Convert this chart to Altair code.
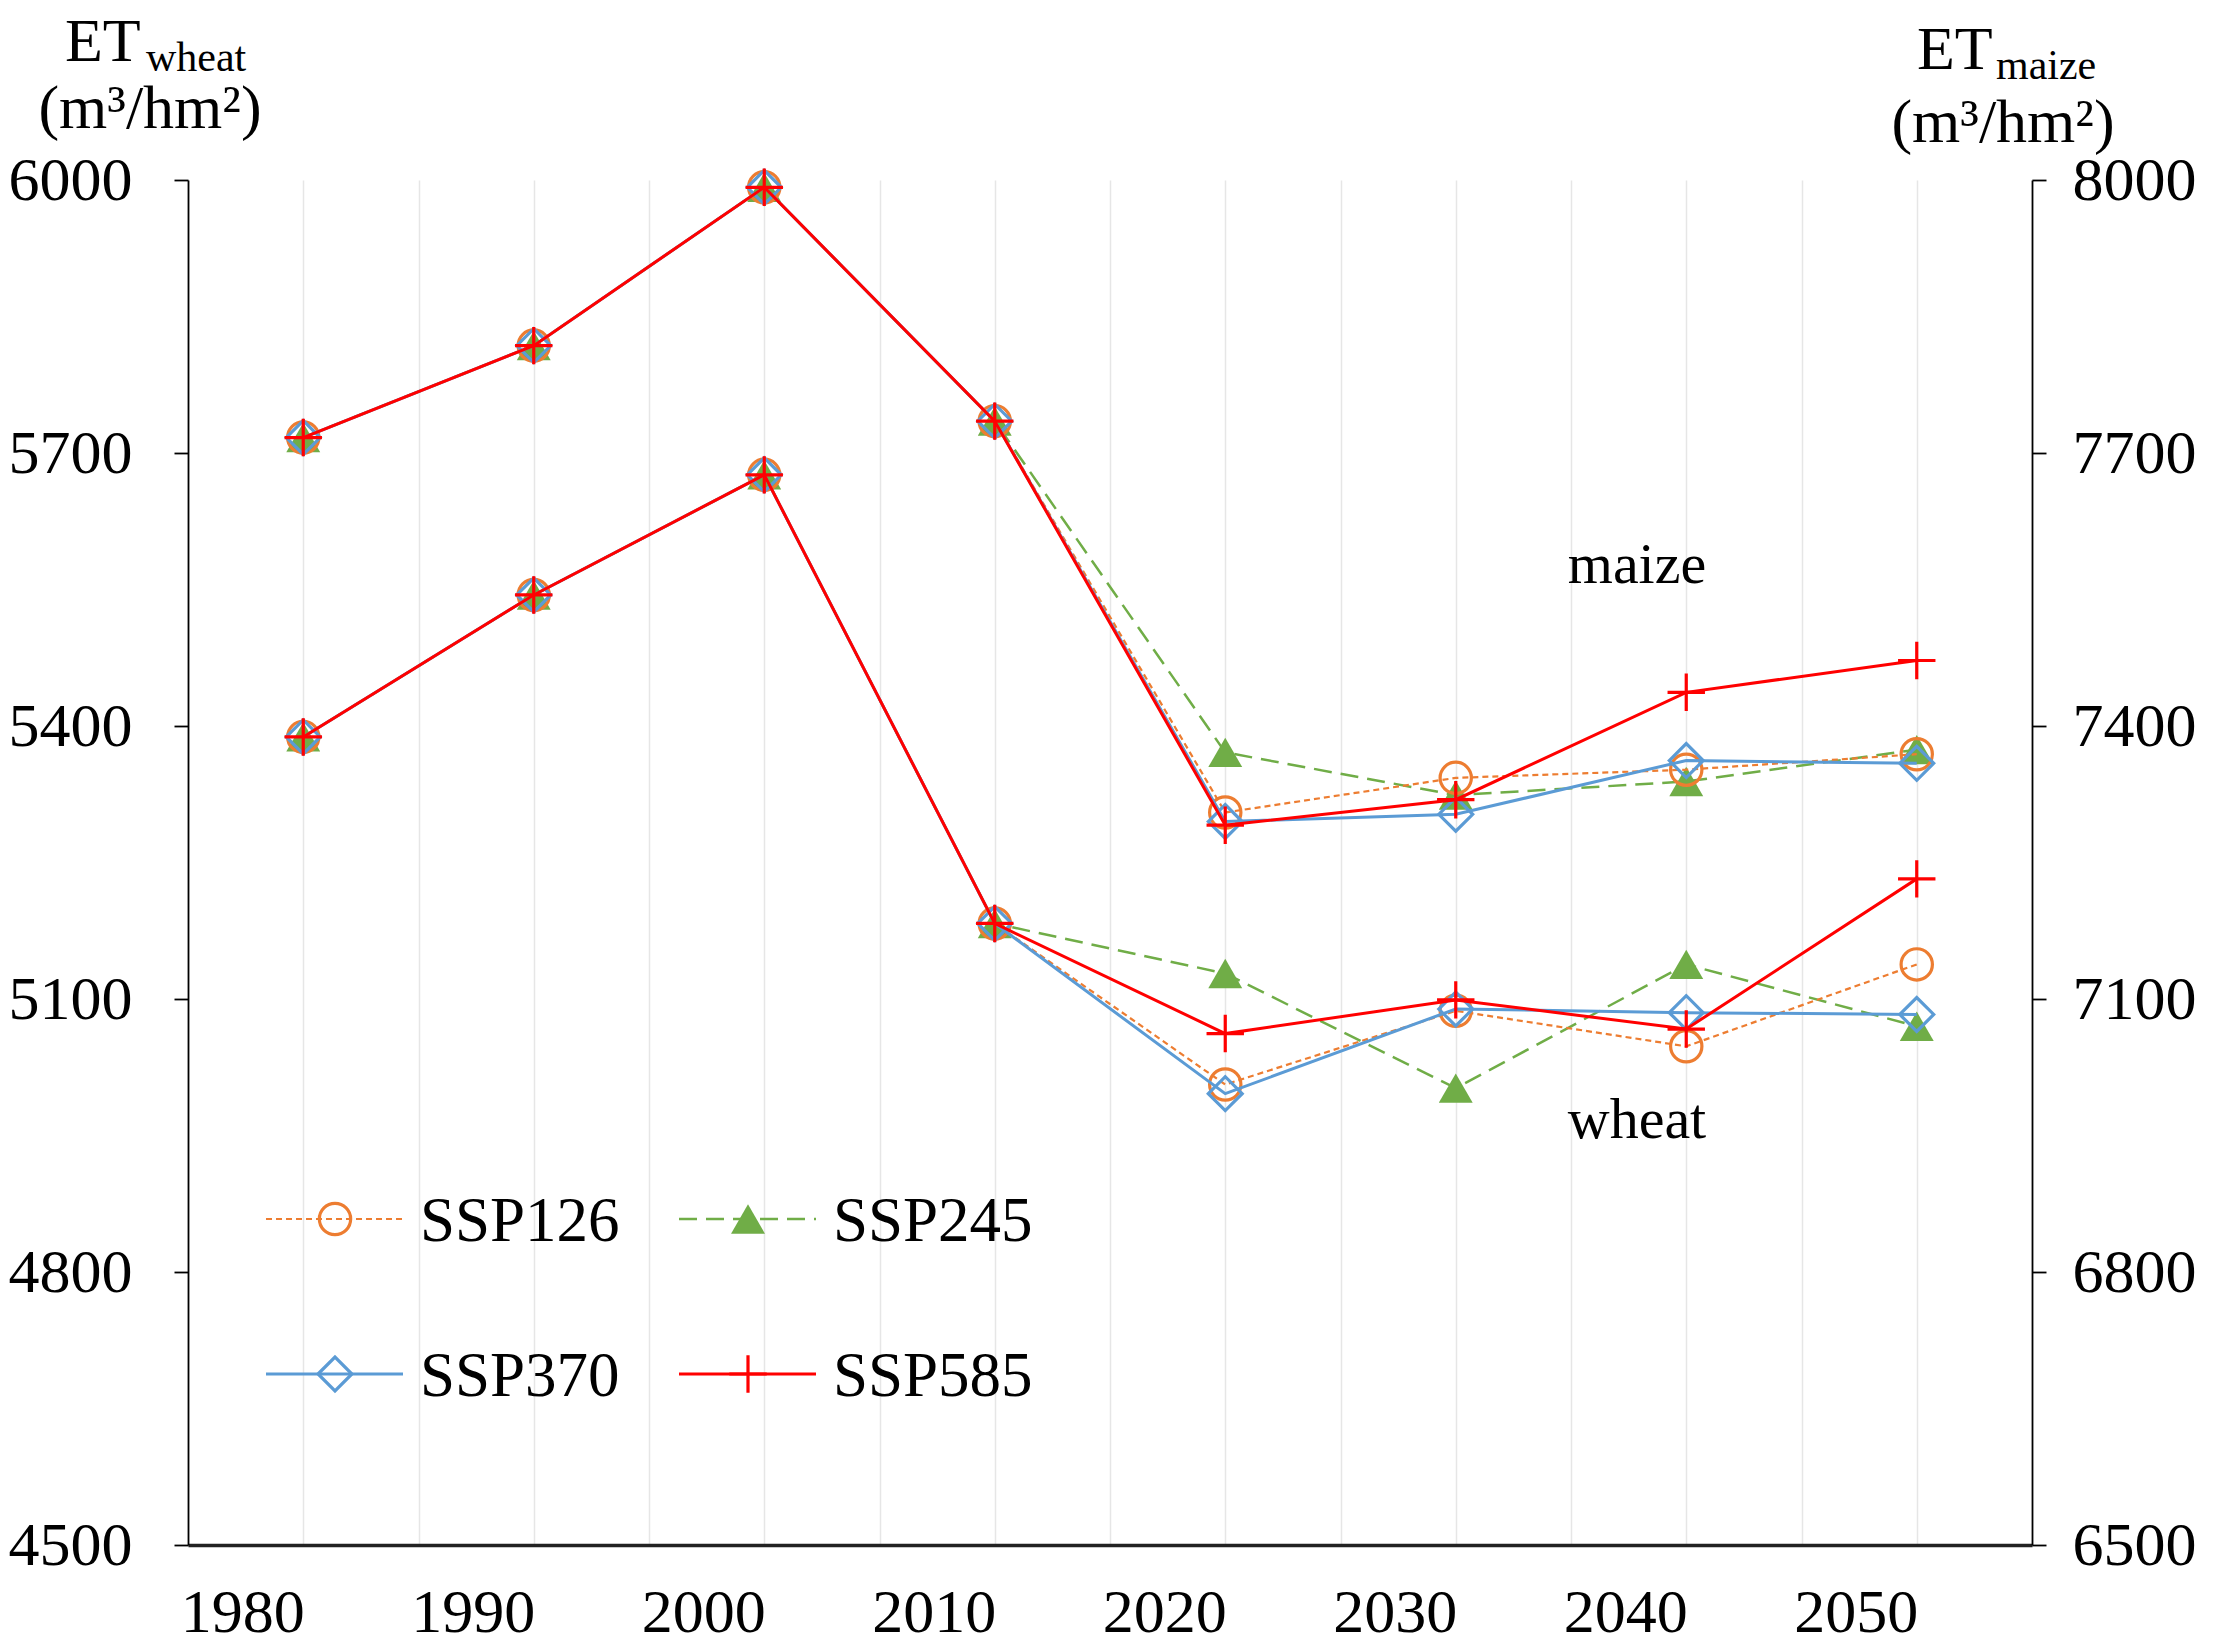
import altair as alt
import pandas as pd

FONT = "Liberation Serif"

years = [1980, 1990, 2000, 2010, 2020, 2030, 2040, 2050]
scenarios = ["SSP126", "SSP245", "SSP370", "SSP585"]
grid_years = list(range(1980, 2051, 5))

wheat_ssp126 = [5388, 5544, 5676, 5183, 5006, 5087, 5048, 5138]
wheat_ssp245 = [5388, 5544, 5676, 5183, 5128, 5002, 5138, 5070]
wheat_ssp370 = [5388, 5544, 5676, 5183, 4996, 5089, 5085, 5083]
wheat_ssp585 = [5388, 5544, 5676, 5183, 5062, 5099, 5067, 5232]

maize_ssp126 = [7717, 7818, 7992, 7735, 7305, 7343, 7352, 7369]
maize_ssp245 = [7717, 7818, 7992, 7735, 7371, 7324, 7339, 7374]
maize_ssp370 = [7717, 7818, 7992, 7735, 7295, 7303, 7362, 7359]
maize_ssp585 = [7717, 7818, 7992, 7735, 7291, 7319, 7437, 7472]

wheat = {"SSP126": wheat_ssp126, "SSP245": wheat_ssp245,
         "SSP370": wheat_ssp370, "SSP585": wheat_ssp585}
maize = {"SSP126": maize_ssp126, "SSP245": maize_ssp245,
         "SSP370": maize_ssp370, "SSP585": maize_ssp585}

rows = []
for s in scenarios:
    for y, w, m in zip(years, wheat[s], maize[s]):
        rows.append({"year": y, "scenario": s, "crop": "wheat", "value": w})
        rows.append({"year": y, "scenario": s, "crop": "maize", "value": m})
df = pd.DataFrame(rows)

style = {
    "SSP126": dict(color="#ED7D31", dash=[6, 4], width=2.2, shape="circle", filled=False, size=980, sw=3.2),
    "SSP245": dict(color="#70AD47", dash=[18, 9], width=2.5, shape="triangle-up", filled=True, size=1150, sw=1),
    "SSP370": dict(color="#5B9BD5", dash=None, width=3, shape="diamond", filled=False, size=1150, sw=3.2),
    "SSP585": dict(color="#FF0000", dash=None, width=3, shape="M-1,0H1M0,-1V1", filled=False, size=1400, sw=3.2),
}
draw_order = ["SSP245", "SSP126", "SSP370", "SSP585"]

xscale = alt.Scale(domain=[1975, 2055], nice=False, zero=False)
xaxis = alt.Axis(values=grid_years, format="d",
                 labelExpr="datum.value % 10 == 0 ? datum.label : ''",
                 grid=True, gridColor="#E6E6E6", gridWidth=1.5,
                 ticks=False, tickSize=0, domainColor="#222222", domainWidth=3.5,
                 labelFont=FONT, labelFontSize=62, labelColor="black",
                 labelBaseline="alphabetic", labelPadding=86, labelOffset=-61,
                 labelFlush=False, labelOverlap=False, title=None)


def yaxis(orient, lo, hi, pad):
    return alt.Axis(orient=orient, values=list(range(lo, hi + 1, 300)), format="d",
                    grid=False, domainColor="black", domainWidth=1.8,
                    tickColor="black", tickWidth=1.8, tickSize=14,
                    labelFont=FONT, labelFontSize=62, labelColor="black",
                    labelPadding=pad, title=None)


def crop_layer(crop, lo, hi, orient, pad):
    yscale = alt.Scale(domain=[lo, hi], nice=False, zero=False)
    ax = yaxis(orient, lo, hi, pad)
    layers = []
    for s in draw_order:
        st = style[s]
        base = alt.Chart(df).transform_filter(
            (alt.datum.crop == crop) & (alt.datum.scenario == s))
        lk = dict(color=st["color"], strokeWidth=st["width"])
        if st["dash"]:
            lk["strokeDash"] = st["dash"]
        enc = dict(
            x=alt.X("year:Q", scale=xscale, axis=xaxis),
            y=alt.Y("value:Q", scale=yscale, axis=ax),
        )
        line = base.mark_line(**lk).encode(**enc)
        pt = base.mark_point(shape=st["shape"], filled=st["filled"], color=st["color"],
                             size=st["size"], strokeWidth=st["sw"], opacity=1).encode(**enc)
        layers += [line, pt]
    return alt.layer(*layers)


wheat_layer = crop_layer("wheat", 4500, 6000, "left", 42)
maize_layer = crop_layer("maize", 6500, 8000, "right", 26)


def txt(s, x, y, size, align="left", baseline="alphabetic"):
    return alt.Chart(pd.DataFrame({"t": [s]})).mark_text(
        align=align, baseline=baseline, font=FONT, fontSize=size, color="black"
    ).encode(x=alt.value(x), y=alt.value(y), text="t:N")


annots = [
    txt("ET", -123, -119, 62),
    txt("wheat", -42, -109, 42),
    txt("(m³/hm²)", -38, -52, 62, align="center"),
    txt("ET", 1729, -111, 62),
    txt("maize", 1808, -101, 42),
    txt("(m³/hm²)", 1815, -38, 62, align="center"),
    txt("maize", 1449, 403, 58, align="center"),
    txt("wheat", 1449, 958, 58, align="center"),
]

# legend (2 x 2)
leg = []
leg_pos = {"SSP126": (78, 1039), "SSP245": (491, 1039),
           "SSP370": (78, 1194), "SSP585": (491, 1194)}
for s in scenarios:
    st = style[s]
    x0, yy = leg_pos[s]
    one = alt.Chart(pd.DataFrame({"scenario": [s]}))
    rk = dict(color=st["color"], strokeWidth=st["width"])
    if st["dash"]:
        rk["strokeDash"] = st["dash"]
    leg.append(one.mark_rule(**rk).encode(x=alt.value(x0), x2=alt.value(x0 + 137), y=alt.value(yy)))
    leg.append(one.mark_point(shape=st["shape"], filled=st["filled"], color=st["color"],
                              size=st["size"], strokeWidth=st["sw"], opacity=1).encode(
        x=alt.value(x0 + 69), y=alt.value(yy)))
    leg.append(one.mark_text(align="left", baseline="alphabetic", font=FONT, fontSize=63,
                             color="black").encode(
        x=alt.value(x0 + 154), y=alt.value(yy + 22), text="scenario:N"))

chart = alt.layer(wheat_layer, maize_layer, *annots, *leg).resolve_scale(
    y="independent"
).properties(
    width=1844, height=1365,
    padding={"left": 180, "top": 172, "right": 177, "bottom": 106},
    autosize=alt.AutoSizeParams(type="none"),
    background="white",
).configure_view(stroke=None)

chart.save("out.html", embed_options={"renderer": "svg", "actions": False})
